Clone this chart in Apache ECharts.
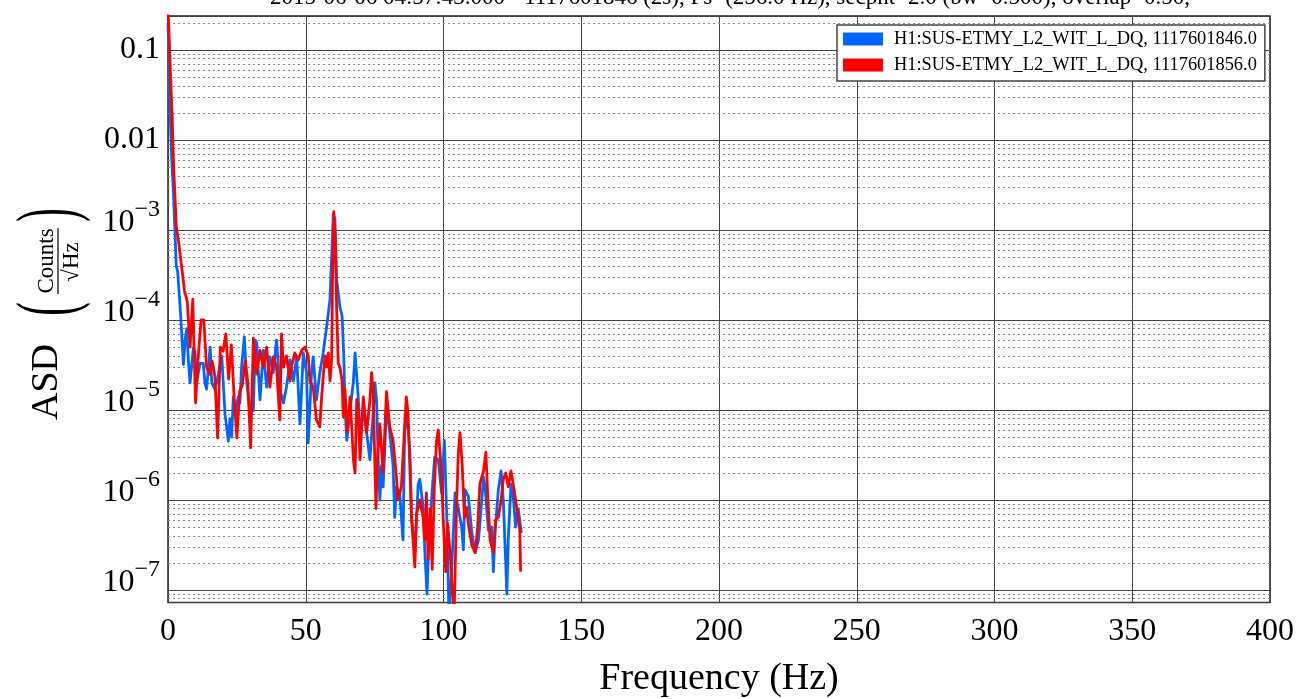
<!DOCTYPE html>
<html><head><meta charset="utf-8">
<script src="https://cdn.jsdelivr.net/npm/echarts@6/dist/echarts.min.js"></script>
<style>html,body{margin:0;padding:0;background:#fff}#c{width:1302px;height:699px}</style>
</head><body><div id="c"></div>
<script>
const freqBlue=[0,0.5,1,1.5,2,2.5,3,3.5,4.4,4.7,5.6,6.2,6.8,7.4,8,9.2,9.8,10.4,11.6,12.8,13.4,14,15.3,15.9,17.1,18.3,19.5,20.7,21.9,22.5,23.1,23.7,24.3,25.5,26.1,26.7,27.7,28.6,29.8,31,31.6,32.2,33.4,34.6,35.8,37,38.2,39.4,40.6,41.9,43,44.3,45.5,46.7,47.9,49.1,50.3,50.9,52.1,52.7,53.9,55.1,56.3,57.6,58.8,60,60.6,61.2,62.4,63.2,63.8,64.3,64.9,66.1,67.3,67.9,69.1,69.7,70.9,72.1,73.3,74.5,75.1,75.7,76.3,76.9,77.5,78.1,79.3,80.5,81.7,82.3,82.9,84.1,85.3,85.9,86.5,87.1,87.8,88.4,89.6,90.8,91.4,92.6,93.2,94,94.7,95.9,96.8,98.1,99.3,100.3,101.2,102,103,104.2,105.4,106.6,107.2,107.8,109,110.3,111.5,112.7,113.9,114.5,115.1,116.3,117.5,118.1,118.7,119.9,120.9,121.7,122.4,123,123.5,124.5,125.3,126.2,127.1,127.7,128.3];
const asdBlue=[0.2,0.05,0.012,5e-3,2.5e-3,1e-3,4e-4,3.5e-4,1.4e-4,1e-4,3.2e-5,6e-5,8e-5,3.5e-5,2e-5,4.9e-5,4.5e-5,2e-5,3.3e-5,3.3e-5,2e-5,1.7e-5,5e-5,2e-5,1.7e-5,2.5e-5,4e-5,9e-6,4.5e-6,8e-6,5e-6,1.4e-5,9e-6,1.4e-5,1.2e-5,3e-5,6.5e-5,2e-5,9e-6,1e-5,6e-5,5.6e-5,1.3e-5,4.6e-5,1.8e-5,3.9e-5,2.6e-5,6e-5,1.7e-5,1.2e-5,1.8e-5,3.6e-5,2.1e-5,3.9e-5,7e-6,4.3e-5,2.6e-5,4.3e-6,2.6e-5,3.9e-5,1.3e-5,2.6e-5,4.3e-5,8.4e-5,1.7e-4,1.5e-3,1.3e-3,2.8e-4,1.4e-4,1.1e-4,4e-5,1e-5,4.6e-6,1e-5,2.1e-5,4.3e-5,1.3e-5,5.6e-6,1e-5,5.6e-6,2.8e-6,9.5e-6,2e-5,1.3e-5,2.8e-6,1e-6,2.4e-6,1.4e-6,1.1e-5,5.6e-6,2.4e-6,6.4e-7,1.4e-6,1.2e-6,3.6e-7,5.6e-6,9.5e-6,6.5e-6,3.4e-6,6.4e-7,2.6e-7,1.5e-6,1.7e-6,8.3e-7,2.8e-7,9e-8,3.5e-7,1.3e-6,3e-6,2.8e-6,1.2e-6,4.6e-6,6.4e-7,5e-8,1.8e-7,1.2e-6,8e-7,5e-7,2.8e-7,1.3e-6,1.1e-6,4.3e-7,2.6e-7,3.6e-7,1e-6,1.8e-6,1.4e-6,4.6e-7,5e-7,1.6e-7,4.3e-7,1.3e-6,2.1e-6,1e-6,2.8e-7,9e-8,3.6e-7,1.5e-6,1.1e-6,5e-7,8e-7,8.3e-7,4.3e-7];
const freqRed=[0,0.5,1,1.5,2,2.5,3,4,5,6,7,8,9,10,11,12,13,14,15,16,17,18,19,20,21,22,23,24,25,26,27,28,29,30,31,32.2,33.4,34.6,35.8,37,38.2,39.4,40.6,41.2,41.9,43,44.3,44.8,46,47.3,48.5,49.7,50.9,51.5,52.7,53.9,55.1,55.7,56.4,57,57.6,58.2,58.8,59.4,59.7,60.2,60.8,61.2,61.8,62.4,63.2,63.6,64.2,65.1,66.1,67.3,67.9,68.5,69.1,69.7,70.9,72.1,73.3,73.9,74.5,75.1,75.5,76,76.9,78.1,79.3,80.5,81.7,82.9,83.5,84.7,85.9,86.5,87.1,87.8,88.4,89.6,90.2,91.4,92.6,93.2,93.8,94.4,95.2,95.9,96.7,97.5,98.1,99.1,99.9,100.8,101.5,102.4,103.2,103.9,104.8,105.4,106,106.8,107.6,108.4,109,110.3,111.5,112.4,113.2,114.5,115.4,116,116.9,118.1,118.9,119.9,120.9,121.7,122.6,123.5,124.5,125.3,126.2,127.1,127.7,128];
const asdRed=[0.3,0.12,0.045,0.019,5.5e-3,2.5e-3,1.1e-3,6.8e-4,3.8e-4,2.1e-4,1.6e-4,5e-5,1.7e-4,1.2e-5,4e-5,1e-4,1e-4,3e-5,2.5e-5,3.5e-5,2.4e-5,4.9e-6,5e-5,4.5e-5,7e-5,2.2e-5,5.3e-5,1.4e-5,4.9e-6,1.6e-5,1.9e-5,3.5e-5,2e-5,3.8e-6,6.3e-5,2.5e-5,4.6e-5,3e-5,5e-5,1.8e-5,3.9e-5,3e-5,7.7e-6,7e-5,3e-5,4e-5,2.1e-5,3e-5,4.3e-5,3.6e-5,4.6e-5,5e-5,4e-5,2.1e-5,1.8e-5,7.7e-6,6.5e-6,1.3e-5,2.5e-5,4e-5,3e-5,4.3e-5,2.1e-5,3.6e-5,2.5e-4,1.6e-3,7e-4,1.4e-4,3.3e-5,3e-5,2.1e-5,8.4e-6,1.7e-5,5.7e-6,1.4e-5,2.8e-6,2e-6,1.3e-5,9.5e-6,2.8e-6,1.4e-5,5.6e-6,1.3e-5,2.6e-5,1.6e-5,2.4e-6,8e-7,2.8e-6,7e-6,2e-6,1.6e-5,6.5e-6,4.6e-6,1.8e-6,1e-6,1.4e-6,6.5e-6,1.4e-5,9.5e-6,2.4e-6,6.4e-7,1.8e-7,7e-7,1e-6,6.4e-7,3.6e-7,1.2e-6,2.2e-7,8e-7,1.7e-7,1.5e-6,4.6e-6,6e-6,2.4e-6,6e-7,1.6e-7,5.5e-7,2.6e-7,9.5e-8,6e-8,1e-6,3.4e-6,5.6e-6,2.4e-6,6.4e-7,8.3e-7,5.5e-7,3.1e-7,2.6e-7,5e-7,1.5e-6,2.1e-6,3.4e-6,1.2e-6,3.6e-7,2.6e-7,6e-7,6.4e-7,1e-6,1.7e-6,2e-6,1.4e-6,2.1e-6,1.5e-6,1e-6,6.4e-7,4.6e-7,1.6e-7];
const seriesNames=['H1:SUS-ETMY_L2_WIT_L_DQ, 1117601846.0','H1:SUS-ETMY_L2_WIT_L_DQ, 1117601856.0'];
const titleText='2015-06-06 04:57:43.000 - 1117601846 (2s), Fs=(256.0 Hz), secpnt=2.0 (bw=0.500), overlap=0.50,';
const xMin=0, xMax=400, xStep=50;
const yMin=7.26e-8, yMax=0.2387;
const FONT='"Liberation Serif", "DejaVu Serif", serif';

const minorVals=[];
for(let e=-8;e<=-1;e++){for(let k=2;k<=9;k++){const v=k*Math.pow(10,e);if(v>yMin&&v<yMax)minorVals.push(v);}}

function zip(f,a){return f.map((x,i)=>[x,a[i]]);}
function fmtY(v){
  const l=Math.log10(v), e=Math.round(l);
  if(Math.abs(l-e)>1e-6) return '';
  if(e===-1) return '{p|0.1}';
  if(e===-2) return '{p|0.01}';
  return '{b|10}{s|\u2212'+(-e)+'}';
}

const chart=echarts.init(document.getElementById('c'),null,{renderer:'canvas'});
chart.setOption({
  animation:false,
  backgroundColor:'#fff',
  grid:{left:168,right:32,top:16,bottom:96.5,show:true,borderColor:'#222',borderWidth:1.5,backgroundColor:'transparent',containLabel:false,outerBoundsMode:'none'},
  legend:{data:seriesNames,orient:'vertical',left:837,top:25,padding:[5,8,7,6],itemGap:8,itemWidth:40,itemHeight:13,icon:'rect',z:10,
    backgroundColor:'#fff',borderColor:'#444',borderWidth:1.5,borderRadius:0,
    textStyle:{fontFamily:FONT,fontSize:18.4,color:'#000',padding:[0,0,0,6]},itemStyle:{borderWidth:0}},
  xAxis:{type:'value',min:xMin,max:xMax,interval:xStep,
    name:'Frequency (Hz)',nameLocation:'middle',nameGap:58,nameTextStyle:{fontFamily:FONT,fontSize:38,color:'#000'},
    axisLine:{show:false},axisTick:{show:false},
    axisLabel:{fontFamily:FONT,fontSize:32,color:'#000',margin:13},
    splitLine:{show:true,lineStyle:{color:'#444',width:1,type:'solid'}}},
  yAxis:{type:'log',logBase:10,min:yMin,max:yMax,
    axisLine:{show:false},axisTick:{show:false},
    axisLabel:{showMinLabel:false,showMaxLabel:false,margin:8,formatter:fmtY,color:'#000',
      rich:{p:{fontFamily:FONT,fontSize:32,lineHeight:32,color:'#000'},
            b:{fontFamily:FONT,fontSize:32,lineHeight:32,color:'#000',verticalAlign:'bottom',padding:[0,0,7,0]},
            s:{fontFamily:FONT,fontSize:24,lineHeight:24,color:'#000',verticalAlign:'bottom',padding:[0,0,24,0]}}},
    splitLine:{show:true,lineStyle:{color:'#444',width:1,type:'solid'}}},
  graphic:[
    {type:'text',x:730,y:-2,silent:true,style:{text:titleText,font:'23px '+FONT,fill:'#000',align:'center',verticalAlign:'middle'}},
    {type:'group',x:0,y:699,rotation:Math.PI/2,silent:true,children:[
      {type:'text',x:317,y:47,style:{text:'ASD',font:'38px '+FONT,fill:'#000',align:'center',verticalAlign:'middle'}},
      {type:'text',x:390,y:51.5,scaleX:0.5,style:{text:'(',font:'82px '+FONT,fill:'#000',align:'center',verticalAlign:'middle'}},
      {type:'text',x:484,y:51.5,scaleX:0.5,style:{text:')',font:'82px '+FONT,fill:'#000',align:'center',verticalAlign:'middle'}},
      {type:'text',x:438,y:47,style:{text:'Counts',font:'23px '+FONT,fill:'#000',align:'center',verticalAlign:'middle'}},
      {type:'line',shape:{x1:405,y1:58,x2:471,y2:58},style:{stroke:'#000',lineWidth:1.2}},
      {type:'text',x:437,y:72,style:{text:'\u221AHz',font:'23px '+FONT,fill:'#000',align:'center',verticalAlign:'middle'}}
    ]}
  ],
  series:[
    {type:'line',name:'_minor',data:[],z:1,silent:true,showSymbol:false,
      markLine:{silent:true,z:1,precision:20,symbol:['none','none'],label:{show:false},animation:false,
        lineStyle:{type:[2,3],color:'#8a8a8a',width:1},
        emphasis:{disabled:true},
        data:minorVals.map(v=>({yAxis:v}))}},
    {type:'line',name:seriesNames[0],data:zip(freqBlue,asdBlue),showSymbol:false,symbol:'none',z:2,clip:true,
      color:'#0066ff',lineStyle:{color:'#0066ff',width:2.8,join:'round'}},
    {type:'line',name:seriesNames[1],data:zip(freqRed,asdRed),showSymbol:false,symbol:'none',z:3,clip:true,
      color:'#ff0000',lineStyle:{color:'#ff0000',width:2.8,join:'round'}}
  ]
});
</script></body></html>
